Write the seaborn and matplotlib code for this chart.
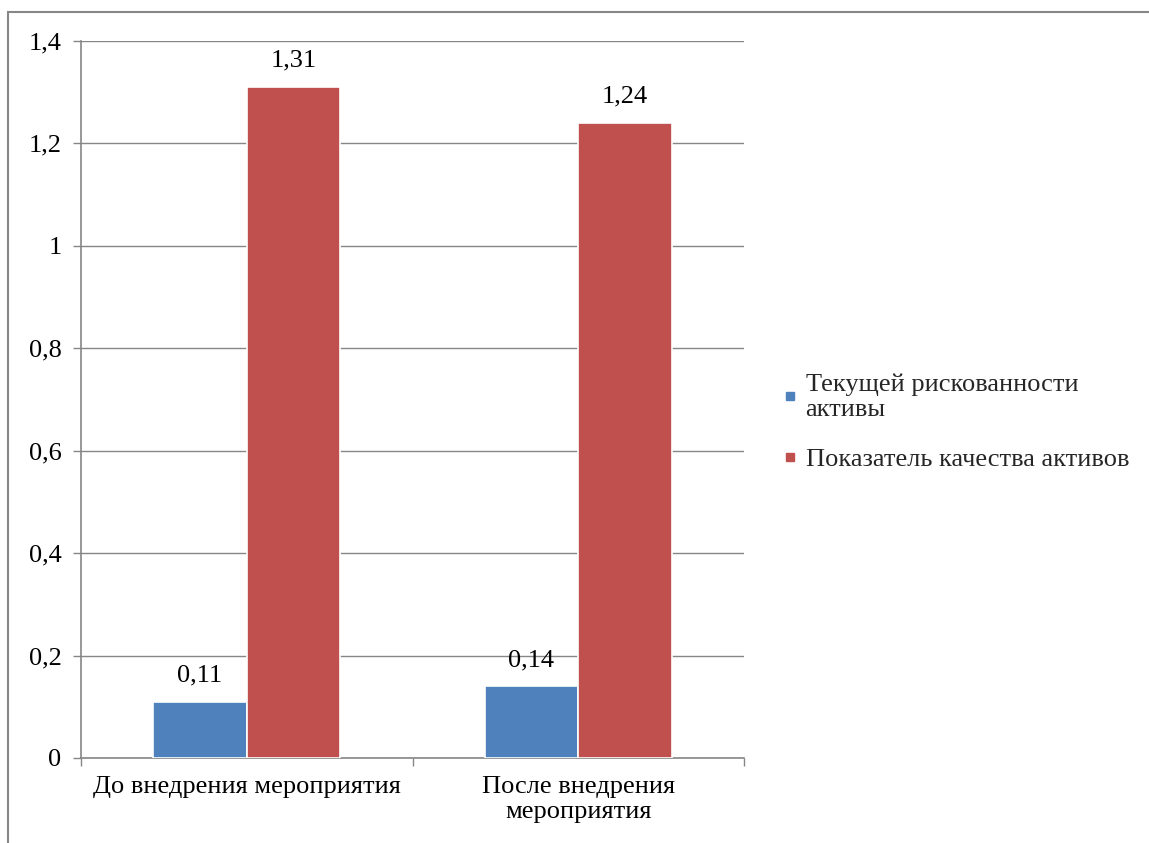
import seaborn as sns
import matplotlib.pyplot as plt
import pandas as pd
from matplotlib.patches import Rectangle
from matplotlib.lines import Line2D
from matplotlib.ticker import FuncFormatter, FixedLocator

categories = ["До внедрения мероприятия", "После внедрения\nмероприятия"]
series = ["Текущей рискованности\nактивы", "Показатель качества активов"]
risk_values = [0.11, 0.14]
quality_values = [1.31, 1.24]
colors = ["#4F81BD", "#C0504D"]

df = pd.DataFrame({
    "category": categories * 2,
    "series": [series[0]] * 2 + [series[1]] * 2,
    "value": risk_values + quality_values,
})

sns.set_style("white")
plt.rcParams["font.family"] = ["Liberation Serif", "DejaVu Serif"]
FS = 19

fig = plt.figure(figsize=(11.49, 8.43), dpi=100)
ax = fig.add_axes([81 / 1149, 1 - 758 / 843, (744 - 81) / 1149, (758 - 41) / 843])

sns.barplot(data=df, x="category", y="value", hue="series", palette=colors,
            width=0.565, gap=0, ax=ax, legend=False, saturation=1,
            edgecolor="white", linewidth=1.2, zorder=3)

# data labels with decimal comma
fmt = lambda v: f"{v:g}".replace(".", ",")
for cont in ax.containers:
    ax.bar_label(cont, labels=[fmt(b.get_height()) for b in cont],
                 padding=11, fontsize=FS, color="black")

ax.set_ylim(0, 1.4)
ax.set_xlim(-0.5, 1.5)
ax.set_yticks([0, 0.2, 0.4, 0.6, 0.8, 1.0, 1.2, 1.4])
ax.yaxis.set_major_formatter(FuncFormatter(lambda v, p: fmt(round(v, 2))))
ax.grid(axis="y", color="#868686", linewidth=1.0, zorder=0)
ax.set_axisbelow(True)
ax.set_xlabel("")
ax.set_ylabel("")

for s in ["top", "right"]:
    ax.spines[s].set_visible(False)
for s in ["left", "bottom"]:
    ax.spines[s].set_color("#868686")
    ax.spines[s].set_linewidth(1.2)

ax.tick_params(axis="y", labelsize=FS, length=6, width=1, color="#868686",
               left=True, pad=8, labelcolor="black")
ax.tick_params(axis="x", which="major", labelsize=FS, length=0, pad=13,
               labelcolor="black")
ax.xaxis.set_minor_locator(FixedLocator([-0.5, 0.5, 1.5]))
ax.tick_params(axis="x", which="minor", bottom=True, length=6, width=1,
               color="#868686")

handles = [Line2D([0], [0], marker="s", linestyle="", markersize=6,
                  markerfacecolor=c, markeredgecolor=c) for c in colors]
fig.legend(handles, series, loc="center left",
           bbox_to_anchor=(758 / 1149, 1 - 422 / 843), frameon=False,
           fontsize=FS, handlelength=0.6, handletextpad=0.3,
           labelspacing=1.0)

# outer chart border (extends past the right and bottom edges)
fig.patches.append(Rectangle((8 / 1149, -0.1), 1.2, 1 - 12 / 843 + 0.1,
                             transform=fig.transFigure, fill=False,
                             edgecolor="#878787", linewidth=1.5))

fig.savefig("out.png", dpi=100)
